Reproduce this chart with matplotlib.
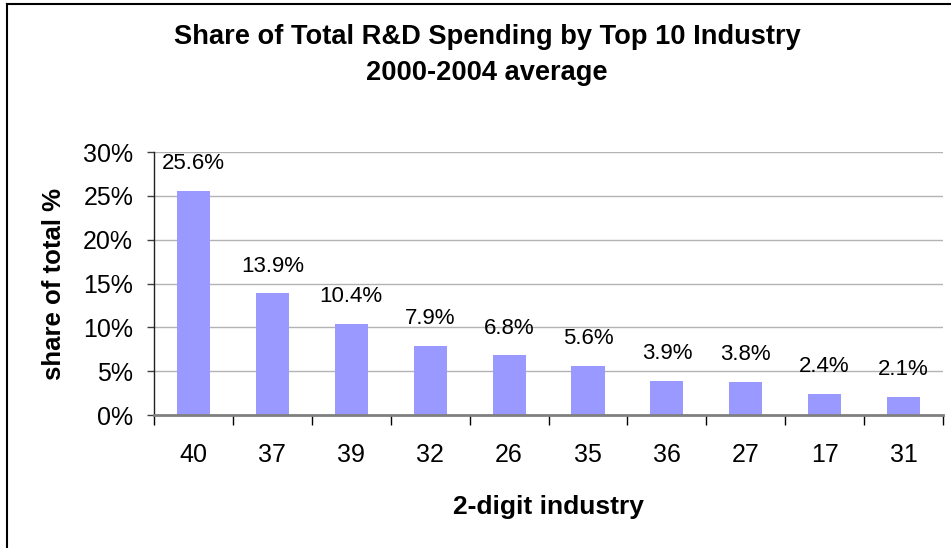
import numpy as np
import matplotlib.pyplot as plt
from matplotlib.lines import Line2D
from matplotlib.ticker import FixedLocator

# 2000-2004 平均研发支出占比（前10行业）
industries = ['40', '37', '39', '32', '26', '35', '36', '27', '17', '31']
shares = [25.6, 13.9, 10.4, 7.9, 6.8, 5.6, 3.9, 3.8, 2.4, 2.1]
yticks = [0, 5, 10, 15, 20, 25, 30]
ytick_labels = ['0%', '5%', '10%', '15%', '20%', '25%', '30%']

plt.rcParams['font.family'] = ['Liberation Sans', 'DejaVu Sans']

fig = plt.figure(figsize=(9.51, 5.48), dpi=100)
ax = fig.add_axes([0.162, 0.2427, 0.8296, 0.4799])

x = np.arange(len(industries))
ax.bar(x, shares, width=0.42, color='#9999ff', zorder=3)

# 柱顶数值标签
for xi, v in zip(x, shares):
    ax.annotate('{:.1f}%'.format(v), (xi, v), xytext=(0, 19.5), textcoords='offset points',
                ha='center', va='center', fontsize=16, color='black')

ax.set_xlim(-0.5, len(industries) - 0.5)
ax.set_ylim(0, 30)
ax.set_yticks(yticks)
ax.set_yticklabels(ytick_labels, fontsize=18)
ax.set_xticks(x)
ax.set_xticklabels(industries, fontsize=18)
ax.tick_params(axis='x', which='major', length=0, pad=20)
ax.xaxis.set_minor_locator(FixedLocator(np.arange(-0.5, len(industries), 1.0)))
ax.tick_params(axis='x', which='minor', length=7, width=1, direction='out', color='black')
ax.tick_params(axis='y', length=5, width=1, direction='out', color='#404040', pad=10)

ax.grid(axis='y', color='#b3b3b3', linewidth=1, zorder=0)
ax.spines['top'].set_visible(False)
ax.spines['right'].set_visible(False)
ax.spines['left'].set_color('#202020')
ax.spines['left'].set_linewidth(1)
ax.spines['bottom'].set_color('#808080')
ax.spines['bottom'].set_linewidth(2)
ax.spines['bottom'].set_zorder(4)

ax.set_ylabel('share of total %', fontsize=18.5, fontweight='bold', labelpad=12)
ax.set_xlabel('2-digit industry', fontsize=19, fontweight='bold', labelpad=20)

fig.text(0.512, 0.8996, 'Share of Total R&D Spending by Top 10 Industry\n2000-2004 average',
         ha='center', va='center', fontsize=19.6, fontweight='bold', linespacing=1.5)

# 外框线（左、上）
fig.add_artist(Line2D([7 / 951, 7 / 951], [0, 1 - 4 / 548], color='black', linewidth=1.5))
fig.add_artist(Line2D([7 / 951, 1], [1 - 4 / 548, 1 - 4 / 548], color='black', linewidth=1.5))

fig.savefig('out.png', dpi=100)
